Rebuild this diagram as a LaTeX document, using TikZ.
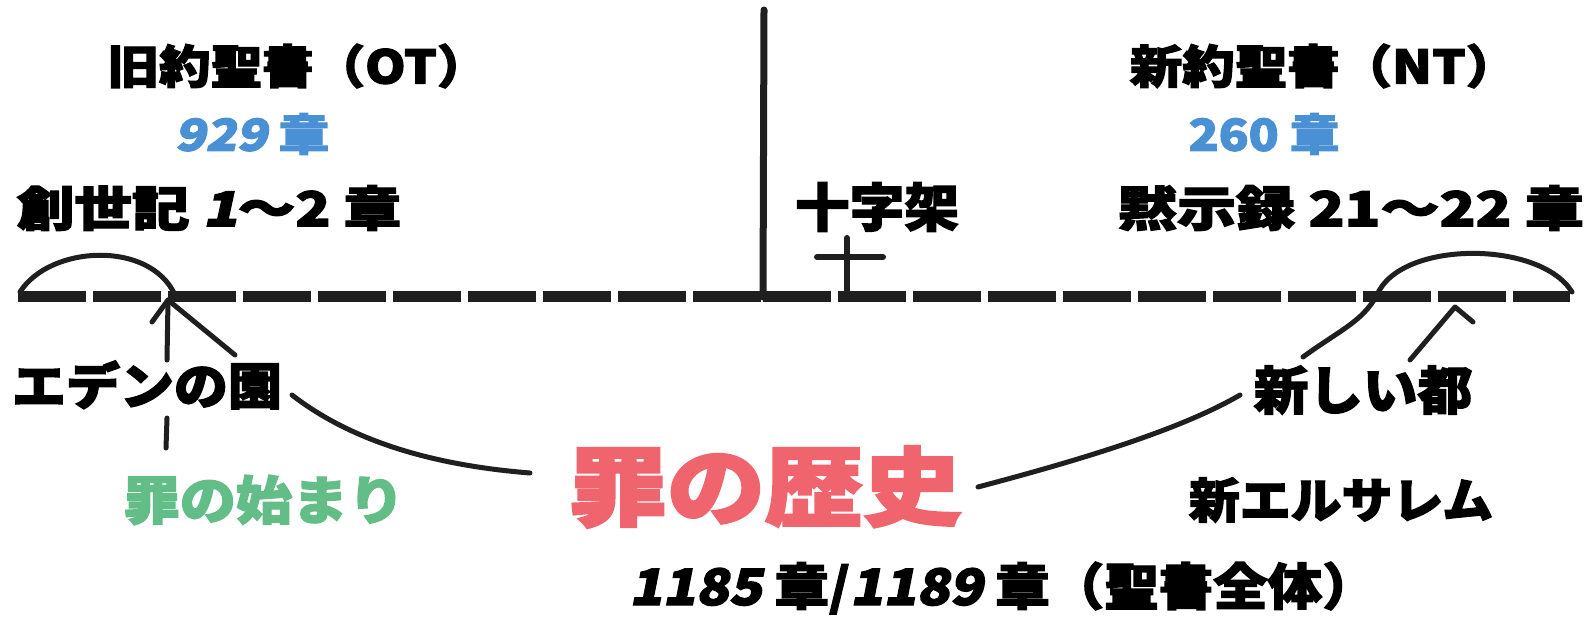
\documentclass[tikz,border=0pt]{standalone}
\usepackage{graphicx}
\usepackage{fontspec}
\newfontfamily\jp{Noto Sans CJK JP}[BoldFeatures={FakeBold=2.5}]
\newfontfamily\jpi{Noto Sans CJK JP}[BoldFeatures={FakeBold=2.5,FakeSlant=0.18}]
\newcommand{\fsz}[1]{\fontsize{#1}{#1}\selectfont}
\newcommand{\tx}[3]{\scalebox{#1}[1]{\fsz{#2}#3}}
\newcommand{\slnum}[1]{{\jpi\bfseries #1}}
\definecolor{ntblue}{RGB}{74,144,212}
\definecolor{sgreen}{RGB}{98,190,134}
\definecolor{sred}{RGB}{240,100,110}
\tikzset{
  lbl/.style={inner sep=0pt, anchor=center, font=\jp\bfseries},
  ink/.style={line width=5pt, line cap=round, line join=round, color=black!88},
  axis/.style={line width=11pt, color=black!88, dash pattern=on 68pt off 7pt},
}
\begin{document}
\begin{tikzpicture}[x=1pt,y=-1pt]
\useasboundingbox (0,0) rectangle (1590,620);
\fill[white] (0,0) rectangle (1590,620);
% texts
\node[lbl] (ot) at (298,66) {\tx{1.12}{46}{旧約聖書（OT）}};
\node[lbl,text=ntblue] (otn) at (252,134) {\tx{1.15}{44}{\slnum{929} 章}};
\node[lbl] (gen) at (209,208) {\tx{1.2}{48}{創世記 \slnum{1}〜2 章}};
\node[lbl] (nt) at (1324,66) {\tx{1.14}{46}{新約聖書（NT）}};
\node[lbl,text=ntblue] (ntn) at (1264,134) {\tx{1.12}{44}{260 章}};
\node[lbl] (rev) at (1351,208) {\tx{1.23}{48}{黙示録 21〜22 章}};
\node[lbl] (cross) at (877,207) {\tx{1.05}{52}{十字架}};
\node[lbl] (eden) at (147,385) {\tx{1.08}{50}{エデンの園}};
\node[lbl,text=sgreen] (sinb) at (264,500) {\tx{1.08}{52}{罪の始まり}};
\node[lbl,text=sred] (hist) at (765,487) {\tx{1.14}{86}{罪の歴史}};
\node[lbl] (city) at (1363,390) {\tx{1.05}{52}{新しい都}};
\node[lbl] (jer) at (1341,500) {\tx{1.06}{48}{新エルサレム}};
\node[lbl] (tot) at (1003,588) {\tx{1.09}{50}{\slnum{1185} 章/\slnum{1189} 章（聖書全体）}};
% coordinates
\coordinate (a0) at (18,297);
\coordinate (am) at (763,297);
\coordinate (a1) at (1570,297);
\coordinate (vtop) at (764,10);
\coordinate (ct) at (847,238);
\coordinate (cb) at (847,297);
\coordinate (cl) at (817,257);
\coordinate (cr) at (883,257);
% timeline
\draw[axis] (a0) -- (am);
\draw[axis] (am) -- (a1);
\draw[ink,line width=7pt] (vtop) -- (am);
\draw[ink,line width=6pt] (ct) -- (cb);
\draw[ink,line width=6pt] (cl) -- (cr);
% arcs
\coordinate (la0) at (20,292);
\coordinate (la1) at (175,295);
\draw[ink] (la0) .. controls (50,245) and (150,240) .. (la1);
\coordinate (ra0) at (1377,295);
\coordinate (ra1) at (1572,292);
\draw[ink] (ra0) .. controls (1400,240) and (1540,240) .. (ra1);
% left arrows
\coordinate (ltip) at (168,300);
\coordinate (lw) at (152,322);
\coordinate (ls) at (167,360);
\coordinate (ld) at (235,355);
\draw[ink] (lw) -- (ltip) -- (ld);
\draw[ink] (ls) -- (ltip);
\coordinate (lv0) at (167,418);
\coordinate (lv1) at (166,448);
\draw[ink] (lv0) -- (lv1);
% right arrows
\coordinate (rtip) at (1455,307);
\coordinate (rw) at (1473,322);
\coordinate (rs) at (1410,360);
\draw[ink] (rs) -- (rtip) -- (rw);
\coordinate (rc0) at (1303,357);
\draw[ink] (rc0) .. controls (1340,330) and (1362,322) .. (ra0);
% long curves
\coordinate (lc0) at (292,395);
\coordinate (lc1) at (530,473);
\draw[ink] (lc0) .. controls (350,440) and (430,465) .. (lc1);
\coordinate (rl0) at (978,487);
\coordinate (rl1) at (1240,395);
\draw[ink] (rl0) .. controls (1080,460) and (1180,430) .. (rl1);
\end{tikzpicture}
\end{document}
